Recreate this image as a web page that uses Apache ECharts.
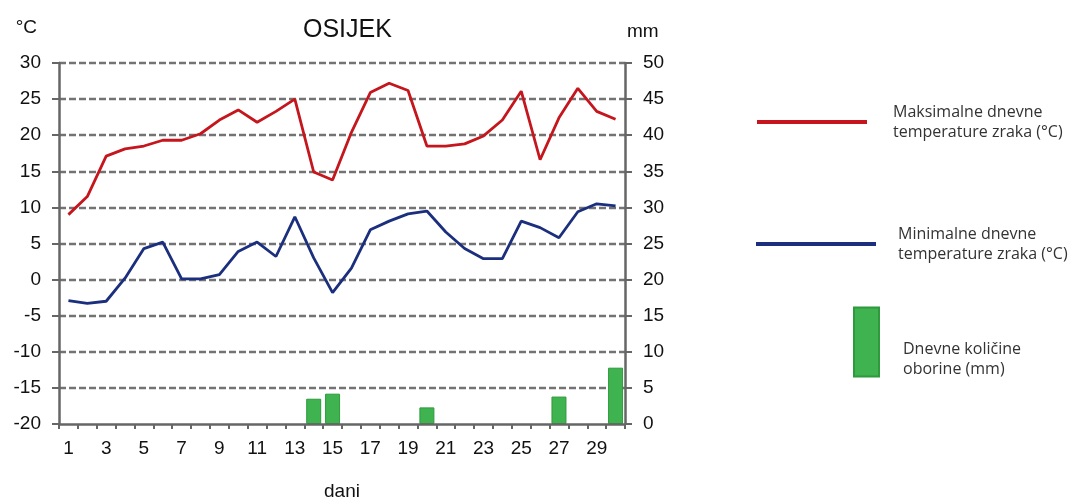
<!DOCTYPE html>
<html>
<head>
<meta charset="utf-8">
<script src="https://cdn.jsdelivr.net/npm/echarts@6/dist/echarts.min.js"></script>
<style>html,body{margin:0;padding:0;background:#fff;}#c{width:1073px;height:504px;}</style>
</head>
<body>
<div id="c"></div>
<script>
const days = ['1','2','3','4','5','6','7','8','9','10','11','12','13','14','15','16','17','18','19','20','21','22','23','24','25','26','27','28','29','30'];
const tMax = [9.0,11.5,17.1,18.1,18.5,19.3,19.3,20.2,22.1,23.5,21.8,23.3,25.0,14.9,13.8,20.4,25.9,27.2,26.2,18.5,18.5,18.8,19.9,22.1,26.1,16.6,22.4,26.5,23.3,22.2];
const tMin = [-2.9,-3.3,-3.0,0.2,4.3,5.2,0.1,0.1,0.7,3.9,5.2,3.2,8.7,3.0,-1.8,1.6,6.9,8.1,9.1,9.5,6.6,4.3,2.9,2.9,8.1,7.2,5.8,9.4,10.5,10.2];
const rain = [0,0,0,0,0,0,0,0,0,0,0,0,0,3.5,4.2,0,0,0,0,2.3,0,0,0,0,0,0,3.8,0,0,7.8];
const nameMax = 'Maksimalne dnevne\ntemperature zraka (°C)';
const nameMin = 'Minimalne dnevne\ntemperature zraka (°C)';
const nameRain = 'Dnevne količine\noborine (mm)';

const axisFont = {fontFamily:'Liberation Sans', fontSize:19, color:'#111'};
const legendText = {fontFamily:'Open Sans', fontSize:16, lineHeight:20, color:'#333'};

const chart = echarts.init(document.getElementById('c'));
chart.setOption({
  animation:false,
  title:{text:'OSIJEK', left:303, top:18, padding:0,
    textStyle:{fontFamily:'Liberation Sans', fontSize:25, fontWeight:'normal', color:'#111'}},
  grid:{left:59, right:448, top:63, bottom:80, containLabel:false, outerBoundsMode:'none'},
  legend:[
    {data:[nameMax], left:757, top:102, padding:0, icon:'rect', itemWidth:110, itemHeight:4,
      textStyle:Object.assign({padding:[0,0,0,21]}, legendText), selectedMode:false},
    {data:[nameMin], left:756, top:224, padding:0, icon:'rect', itemWidth:120, itemHeight:4,
      textStyle:Object.assign({padding:[0,0,0,17]}, legendText), selectedMode:false},
    {data:[nameRain], left:853, top:305, padding:0, icon:'rect', itemWidth:25, itemHeight:69,
      formatter: function (n) { return '{s| }\n' + n; },
      textStyle:Object.assign({padding:[0,0,0,19], rich:{s:{height:34, lineHeight:34, fontSize:10}}}, legendText),
      selectedMode:false}
  ],
  xAxis:{type:'category', data:days, boundaryGap:true, z:5,
    name:'dani', nameLocation:'middle', nameGap:58, nameTextStyle:axisFont,
    axisLine:{show:true, onZero:false, lineStyle:{color:'#666', width:2.5}},
    axisTick:{show:true, interval:0, length:5, lineStyle:{color:'#666', width:2}},
    axisLabel:Object.assign({interval:1, margin:15}, axisFont),
    splitLine:{show:false}},
  yAxis:[
    {type:'value', min:-20, max:30, interval:5, position:'left',
      name:'°C', nameLocation:'end', nameGap:35,
      nameTextStyle:Object.assign({align:'right', verticalAlign:'middle', padding:[0,22,0,0]}, axisFont),
      axisLine:{show:true, lineStyle:{color:'#666', width:2.5}},
      axisTick:{show:true, length:7, lineStyle:{color:'#666', width:2}},
      axisLabel:Object.assign({margin:18}, axisFont),
      splitLine:{show:true, showMinLine:false, lineStyle:{color:'#737373', width:2.3, type:[7,3]}}},
    {type:'value', min:0, max:50, interval:5, position:'right',
      name:'mm', nameLocation:'end', nameGap:31,
      nameTextStyle:Object.assign({align:'left', verticalAlign:'middle', padding:[0,0,0,2]}, axisFont),
      axisLine:{show:true, lineStyle:{color:'#666', width:2.5}},
      axisTick:{show:true, length:7, lineStyle:{color:'#666', width:2}},
      axisLabel:Object.assign({margin:18}, axisFont),
      splitLine:{show:false}}
  ],
  series:[
    {name:nameMax, type:'line', data:tMax, yAxisIndex:0, symbol:'none',
      lineStyle:{color:'#c4161c', width:2.8}, itemStyle:{color:'#c4161c'}, z:3},
    {name:nameMin, type:'line', data:tMin, yAxisIndex:0, symbol:'none',
      lineStyle:{color:'#1b2f7e', width:2.8}, itemStyle:{color:'#1b2f7e'}, z:3},
    {name:nameRain, type:'bar', data:rain.map(v => v > 0 ? v : '-'), yAxisIndex:1, barWidth:15,
      itemStyle:{color:'#3fb34f', borderColor:'#2f9a3d', borderWidth:1}, z:2}
  ]
});
</script>
</body>
</html>
